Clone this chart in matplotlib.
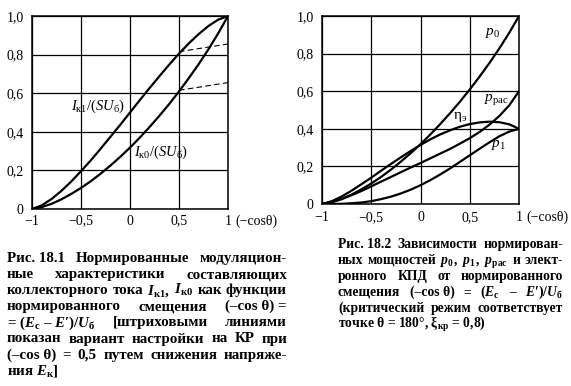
import numpy as np
import matplotlib
matplotlib.use('Agg')
import matplotlib.pyplot as plt

plt.rcParams['font.family'] = ['Liberation Serif', 'DejaVu Serif']
plt.rcParams['mathtext.fontset'] = 'custom'
plt.rcParams['mathtext.rm'] = 'Liberation Serif'
plt.rcParams['mathtext.it'] = 'Liberation Serif:italic'
plt.rcParams['mathtext.bf'] = 'Liberation Serif:bold'
plt.rcParams['mathtext.bfit'] = 'Liberation Serif:italic:bold'

# данные (-cos θ)
x = [-1.0, -0.9, -0.8, -0.7, -0.6, -0.5, -0.4, -0.3, -0.2, -0.1, 0.0,
     0.1, 0.2, 0.3, 0.4, 0.5, 0.6, 0.7, 0.8, 0.9, 1.0]

# рис 18.1
ik1 = [0.0, 0.019, 0.052, 0.094, 0.142, 0.196, 0.252, 0.312, 0.374, 0.436, 0.500,
       0.564, 0.627, 0.688, 0.748, 0.805, 0.858, 0.906, 0.948, 0.981, 1.0]
ik0 = [0.0, 0.010, 0.027, 0.050, 0.078, 0.109, 0.144, 0.183, 0.225, 0.270, 0.318,
       0.370, 0.425, 0.483, 0.544, 0.609, 0.678, 0.750, 0.827, 0.910, 1.0]
dash_x = [0.5, 1.0]
dash_k1 = [0.815, 0.855]
dash_k0 = [0.615, 0.655]

# рис 18.2
p0 = ik0
p1 = [0.0, 0.0001, 0.001, 0.004, 0.008, 0.015, 0.026, 0.039, 0.056, 0.076, 0.100,
      0.127, 0.157, 0.189, 0.224, 0.259, 0.294, 0.328, 0.360, 0.385, 0.400]
prac = [0.0, 0.010, 0.026, 0.047, 0.069, 0.094, 0.119, 0.144, 0.169, 0.194, 0.218,
        0.243, 0.268, 0.293, 0.321, 0.350, 0.383, 0.422, 0.468, 0.524, 0.600]
eta = [0.0, 0.015, 0.040, 0.071, 0.105, 0.140, 0.177, 0.213, 0.248, 0.282, 0.314,
       0.344, 0.370, 0.392, 0.411, 0.425, 0.434, 0.438, 0.435, 0.424, 0.400]

xticks = [-1, -0.5, 0, 0.5, 1]
xtick_labels = ['−1', '−0,5', '0', '0,5', '1']
yticks = [0, 0.2, 0.4, 0.6, 0.8, 1.0]
ytick_labels = ['0', '0,2', '0,4', '0,6', '0,8', '1,0']

W, H = 571, 386
fig = plt.figure(figsize=(W / 100, H / 100), dpi=100, facecolor='w')
TFS = 10

def px_axes(l, t, r, b):
    return fig.add_axes([l / W, 1 - b / H, (r - l) / W, (b - t) / H])

def setup(ax, xpad, ypad):
    ax.set_xlim(-1, 1)
    ax.set_ylim(0, 1)
    ax.set_xticks(xticks)
    ax.set_xticklabels(xtick_labels)
    ax.set_yticks(yticks)
    ax.set_yticklabels(ytick_labels)
    ax.tick_params(length=0, labelsize=TFS, pad=ypad, axis='y')
    ax.tick_params(length=0, labelsize=TFS, pad=xpad, axis='x')
    ax.grid(True, color='k', lw=0.9)
    for s in ax.spines.values():
        s.set_linewidth(1.1)
    ax.annotate('(−cosθ)', xy=(1, 0), xycoords='axes fraction',
                xytext=(5, -xpad), textcoords='offset points',
                fontsize=TFS, va='top', ha='left')

ax1 = px_axes(32, 16, 228, 209)
setup(ax1, 4, 6)
ax1.plot(x, ik1, 'k-', lw=1.6)
ax1.plot(x, ik0, 'k-', lw=1.6)
ax1.plot(dash_x, dash_k1, 'k--', lw=0.8, dashes=(5, 3))
ax1.plot(dash_x, dash_k0, 'k--', lw=0.8, dashes=(5, 3))
ax1.text(-0.6, 0.53, r'$I_{\mathrm{к1}}/(SU_{\mathrm{б}})$', fontsize=10.5, va='center')
ax1.text(0.04, 0.295, r'$I_{\mathrm{к0}}/(SU_{\mathrm{б}})$', fontsize=10.5, va='center')

ax2 = px_axes(322, 16, 519, 204)
setup(ax2, 5, 6)
for ys in (p0, p1, prac, eta):
    ax2.plot(x, ys, 'k-', lw=1.6)
ax2.text(0.655, 0.91, r'$p_{\mathrm{0}}$', fontsize=11, va='center')
ax2.text(0.64, 0.558, r'$p_{\mathrm{рас}}$', fontsize=11, va='center')
ax2.text(0.33, 0.465, r'$\mathrm{η}_{\mathrm{э}}$', fontsize=11, va='center')
ax2.text(0.715, 0.314, r'$p_{\mathrm{1}}$', fontsize=11, va='center')

# подписи
fig.canvas.draw()
renderer = fig.canvas.get_renderer()

def line(tokens, x0, x1, y, fs, justify=True):
    texts = [fig.text(0, 1 - y / H, t, fontsize=fs, fontweight='bold',
                      va='baseline', ha='left') for t in tokens]
    widths = [t.get_window_extent(renderer).width for t in texts]
    if justify and len(tokens) > 1:
        gap = (x1 - x0 - sum(widths)) / (len(tokens) - 1)
    else:
        gap = fs * 0.25 * 100 / 72
    pos = x0
    for t, w in zip(texts, widths):
        t.set_x(pos / W)
        pos += w + gap

fs_l = 10.8
left_lines = [
    ['Рис. 18.1', 'Нормированные', 'модуляцион-'],
    ['ные', 'характеристики', 'составляющих'],
    ['коллекторного', 'тока', r'$\mathbfit{I}_{\mathbf{к1}}$,', r'$\mathbfit{I}_{\mathbf{к0}}$', 'как', 'функции'],
    ['нормированного', 'смещения', '(–cos θ) ='],
    [r'= ($\mathbfit{E}_{\mathbf{с}}$ – $\mathbfit{E}$′)/$\mathbfit{U}_{\mathbf{б}}$', '[штриховыми', 'линиями'],
    ['показан', 'вариант', 'настройки', 'на', 'КР', 'при'],
    ['(–cos θ)', '=', '0,5', 'путем', 'снижения', 'напряже-'],
]
for i, toks in enumerate(left_lines):
    line(toks, 7, 287, 262 + i * 16.1, fs_l)
line([r'ния $\mathbfit{E}_{\mathbf{к}}$]'], 7, 287, 262 + 7 * 16.1, fs_l, justify=False)

fs_r = 9.8
right_lines = [
    ['Рис. 18.2', 'Зависимости', 'нормирован-'],
    ['ных', 'мощностей', r'$\mathbfit{p}_{\mathbf{0}}$,', r'$\mathbfit{p}_{\mathbf{1}}$,',
     r'$\mathbfit{p}_{\mathbf{рас}}$', 'и', 'элект-'],
    ['ронного', 'КПД', 'от', 'нормированного'],
    ['смещения', '(–cos θ)', '=', r'($\mathbfit{E}_{\mathbf{с}}$', '–',
     r'$\mathbfit{E}$′)/$\mathbfit{U}_{\mathbf{б}}$'],
    ['(критический', 'режим', 'соответствует'],
]
for i, toks in enumerate(right_lines):
    line(toks, 338, 563, 248 + i * 15.9, fs_r)
line([r'точке θ = 180°, ξ$_{\mathbf{кр}}$ = 0,8)'], 338, 563, 248 + 5 * 15.9, fs_r, justify=False)

fig.savefig('out.png', dpi=100, facecolor='w')
